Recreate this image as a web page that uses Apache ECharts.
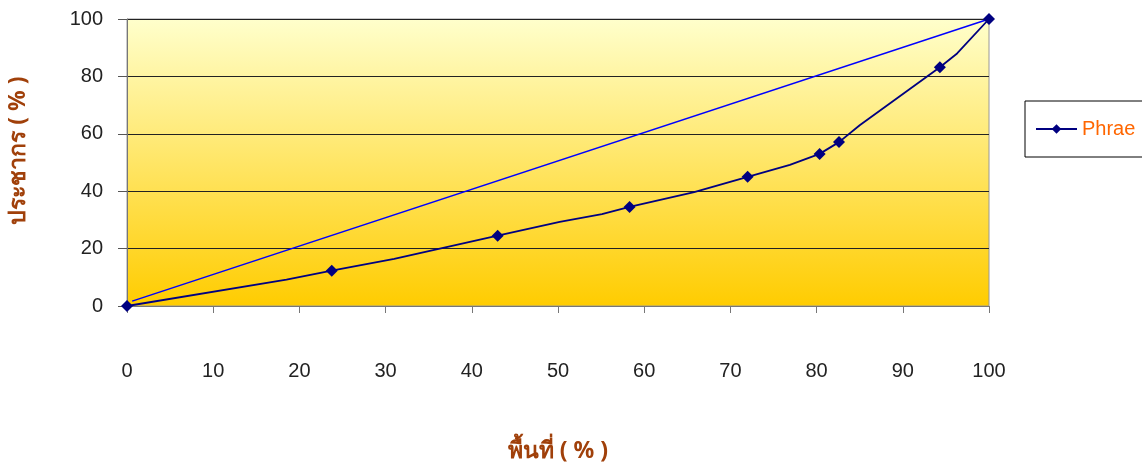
<!DOCTYPE html>
<html>
<head>
<meta charset="utf-8">
<script src="https://cdn.jsdelivr.net/npm/echarts@6/dist/echarts.min.js"></script>
<style>
html,body{margin:0;padding:0;background:#fff;}
#c{width:1142px;height:465px;}
</style>
</head>
<body>
<div id="c"></div>
<script>
// Lorenz curve for Phrae: cumulative area (%) vs cumulative population (%)
const areaPct = [0, 18.5, 23.75, 31, 43, 50.2, 55.1, 58.3, 65.8, 72, 76.9, 80.35, 82.6, 85.0, 94.3, 96.3, 100];
const popPct  = [0, 9.2, 12.3, 16.4, 24.5, 29.3, 32.0, 34.5, 39.7, 45, 49.2, 53, 57.1, 63.0, 83.2, 88, 100];
const marked  = [1, 0, 1, 0, 1, 0, 0, 1, 0, 1, 0, 1, 1, 0, 1, 0, 1];
// line of equality
const equalX = [0.6, 100];
const equalY = [1.7, 100];
const xTicks = [0, 10, 20, 30, 40, 50, 60, 70, 80, 90, 100];
const yTicks = [0, 20, 40, 60, 80, 100];

const curveData = areaPct.map((x, i) => marked[i]
  ? { value: [x, popPct[i]] }
  : { value: [x, popPct[i]], symbol: 'none' });
const equalData = equalX.map((x, i) => [x, equalY[i]]);

const chart = echarts.init(document.getElementById('c'));
chart.setOption({
  animation: false,
  textStyle: { fontFamily: 'Liberation Sans, Arial, sans-serif' },
  grid: {
    left: 127, right: 153, top: 19, bottom: 159,
    containLabel: false,
    outerBoundsMode: 'none',
    show: true,
    borderColor: '#999', borderWidth: 1,
    backgroundColor: new echarts.graphic.LinearGradient(0, 0, 0, 1, [
      { offset: 0, color: '#FFFFCC' },
      { offset: 1, color: '#FFCC00' }
    ])
  },
  legend: {
    data: ['Phrae'],
    left: 1025, top: 101,
    orient: 'vertical',
    borderColor: '#000', borderWidth: 1,
    padding: [18, 30, 18, 10],
    itemWidth: 41, itemHeight: 12, itemGap: 0,
    textStyle: { color: '#FF6600', fontSize: 20, fontFamily: 'Liberation Sans, Arial, sans-serif' }
  },
  xAxis: {
    type: 'value', min: 0, max: 100, interval: 10,
    name: 'พื้นที่ ( % )', nameLocation: 'middle', nameGap: 134,
    nameTextStyle: { color: '#A0400A', fontSize: 23, fontWeight: 'bold', fontFamily: 'Noto Sans, DejaVu Sans, sans-serif' },
    axisLine: { show: true, lineStyle: { color: '#777', width: 1 } },
    axisTick: { show: true, length: 7, lineStyle: { color: '#777' } },
    axisLabel: { color: '#222', fontSize: 20, margin: 55,
      formatter: v => xTicks.includes(v) ? String(v) : '' },
    splitLine: { show: false }
  },
  yAxis: {
    type: 'value', min: 0, max: 100, interval: 20,
    name: 'ประชากร ( % )', nameLocation: 'middle', nameGap: 97, nameRotate: 90,
    nameTextStyle: { color: '#A0400A', fontSize: 23, fontWeight: 'bold', padding: [0, 0, 0, 24],
      fontFamily: 'Noto Sans, DejaVu Sans, sans-serif' },
    axisLine: { show: true, lineStyle: { color: '#777', width: 1 } },
    axisTick: { show: true, length: 9, lineStyle: { color: '#555' } },
    axisLabel: { color: '#222', fontSize: 20, margin: 24,
      formatter: v => yTicks.includes(v) ? String(v) : '' },
    splitLine: { show: true, lineStyle: { color: '#222', width: 1 } }
  },
  series: [
    {
      name: 'equality', type: 'line', data: equalData,
      symbol: 'none', lineStyle: { color: '#0000FF', width: 1.5 },
      itemStyle: { color: '#0000FF' }, z: 2
    },
    {
      name: 'Phrae', type: 'line', data: curveData,
      symbol: 'diamond', symbolSize: 12, clip: false,
      lineStyle: { color: '#000080', width: 1.8 },
      itemStyle: { color: '#000080' }, z: 3
    }
  ]
});
</script>
</body>
</html>
